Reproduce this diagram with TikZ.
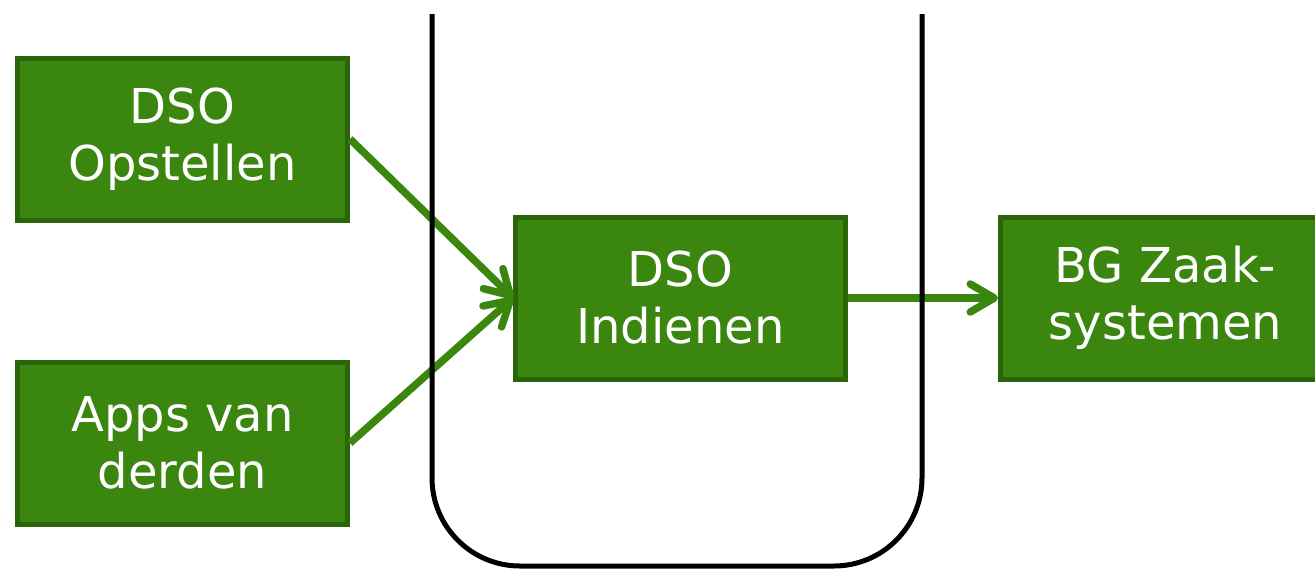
\documentclass[tikz,border=0pt]{standalone}
\usepackage{fontspec}
\setmainfont{DejaVu Sans}
\usetikzlibrary{arrows.meta,positioning}
\definecolor{dsogreen}{HTML}{3A860F}
\definecolor{dsoborder}{HTML}{2A650A}
\tikzset{
  box/.style   = {draw=dsoborder, fill=dsogreen, line width=5pt, rectangle,
                  minimum width=330pt, minimum height=162pt, inner sep=0pt,
                  text=white, align=center, font=\fontsize{48}{57}\selectfont},
  flow/.style  = {draw=dsogreen, line width=7.5pt,
                  -{Straight Barb[length=24pt, width=28pt, round]}},
  bucket/.style = {draw=black, line width=5pt, rounded corners=88pt}
}
\begin{document}
\begin{tikzpicture}[x=1pt, y=-1pt]
\useasboundingbox (0,0) rectangle (1315,568);

% source applications on the left
\node[box] (opstellen) at (182.5,139) {DSO\\Opstellen};
\node[box] (derden)    at (182.5,443) {Apps van\\derden};
% the central service and the receiving systems
\node[box] (indienen)  at (680.5,298) {DSO\\Indienen};
\node[box] (zaak)      at (1165.5,298) {BG Zaak-\\systemen};

% flows between the systems
\draw[flow] (opstellen.east) -- (indienen.west);
\draw[flow] (derden.east) -- (indienen.west);
\draw[flow] (indienen.east) -- (zaak.west);

% the open container round the central service
\draw[bucket] (432,14) -- (432,566) -- (922,566) -- (922,14);
\end{tikzpicture}
\end{document}
